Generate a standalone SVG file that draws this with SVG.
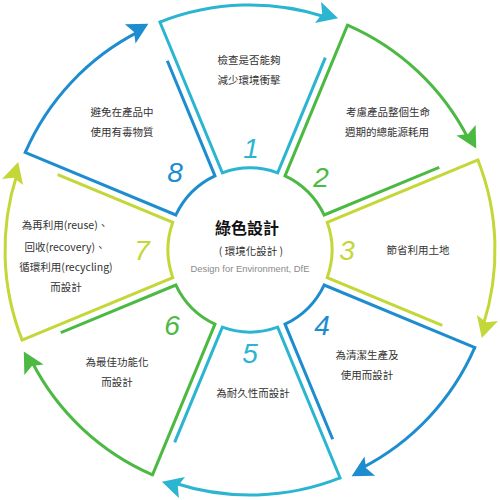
<svg xmlns="http://www.w3.org/2000/svg" xmlns:xlink="http://www.w3.org/1999/xlink" width="500" height="500" viewBox="0 0 500 500">
<style>
.f{fill:none;stroke-width:3;stroke-linecap:square;stroke-linejoin:miter}
.a{fill:none;stroke-width:3;stroke-linecap:butt}
.steal{stroke:#2cb5d1}.sgreen{stroke:#4bb942}.syel{stroke:#c4d738}.sblue{stroke:#1e8dcf}
.hteal{fill:#2cb5d1}.hgreen{fill:#4bb942}.hyel{fill:#c4d738}.hblue{fill:#1e8dcf}
.t{font-family:"Noto Sans CJK TC","Liberation Sans",sans-serif;font-size:10.5px;fill:#333;text-anchor:middle}
.n{font-family:"Liberation Sans","Open Sans",sans-serif;font-style:italic;font-size:28px;text-anchor:middle}
</style>
<defs>
<path id="frame" d="M74.75,-190.93 L27.64,-77.2 A82,82 0 0 0 -27.64,-77.2 L-90.05,-227.86"/>
<path id="arc" d="M-90.05,-227.86 A245,245 0 0 1 75.71,-233.01"/>
<path id="head" d="M88.1,-231.8 L71.1,-248.0 L72.2,-236.2 L65.0,-226.9 Z"/>
</defs>
<rect width="500" height="500" fill="#fff"/>
<g id="connectors" transform="translate(250,250)">
<g><use xlink:href="#arc" class="a steal"/><use xlink:href="#head" class="hteal"/></g>
<g transform="rotate(45)"><use xlink:href="#arc" class="a sgreen"/><use xlink:href="#head" class="hgreen"/></g>
<g transform="rotate(90)"><use xlink:href="#arc" class="a syel"/><use xlink:href="#head" class="hyel"/></g>
<g transform="rotate(135)"><use xlink:href="#arc" class="a sblue"/><use xlink:href="#head" class="hblue"/></g>
<g transform="rotate(180)"><use xlink:href="#arc" class="a steal"/><use xlink:href="#head" class="hteal"/></g>
<g transform="rotate(225)"><use xlink:href="#arc" class="a sgreen"/><use xlink:href="#head" class="hgreen"/></g>
<g transform="rotate(270)"><use xlink:href="#arc" class="a syel"/><use xlink:href="#head" class="hyel"/></g>
<g transform="rotate(315)"><use xlink:href="#arc" class="a sblue"/><use xlink:href="#head" class="hblue"/></g>
</g>
<g id="seg1">
<use xlink:href="#frame" class="f steal" transform="translate(250,250)"/>
<text class="n hteal" x="251" y="158">1</text>
<text class="t" x="249" y="64">檢查是否能夠</text>
<text class="t" x="249" y="84">減少環境衝擊</text>
</g>
<g id="seg2">
<use xlink:href="#frame" class="f sgreen" transform="translate(250,250) rotate(45)"/>
<text class="n hgreen" x="321" y="187">2</text>
<text class="t" x="388" y="116">考慮產品整個生命</text>
<text class="t" x="387" y="136">週期的總能源耗用</text>
</g>
<g id="seg3">
<use xlink:href="#frame" class="f syel" transform="translate(250,250) rotate(90)"/>
<text class="n hyel" x="347" y="260">3</text>
<text class="t" x="418" y="254">節省利用土地</text>
</g>
<g id="seg4">
<use xlink:href="#frame" class="f sblue" transform="translate(250,250) rotate(135)"/>
<text class="n hblue" x="322" y="335">4</text>
<text class="t" x="367" y="359">為清潔生產及</text>
<text class="t" x="367" y="379">使用而設計</text>
</g>
<g id="seg5">
<use xlink:href="#frame" class="f steal" transform="translate(250,250) rotate(180)"/>
<text class="n hteal" x="250" y="363">5</text>
<text class="t" x="253" y="397">為耐久性而設計</text>
</g>
<g id="seg6">
<use xlink:href="#frame" class="f sgreen" transform="translate(250,250) rotate(225)"/>
<text class="n hgreen" x="172" y="335">6</text>
<text class="t" x="117" y="366">為最佳功能化</text>
<text class="t" x="117" y="386">而設計</text>
</g>
<g id="seg7">
<use xlink:href="#frame" class="f syel" transform="translate(250,250) rotate(270)"/>
<text class="n hyel" x="142" y="260">7</text>
<text class="t" x="65" y="229">為再利用(reuse)、</text>
<text class="t" x="65" y="251">回收(recovery)、</text>
<text class="t" x="66" y="271">循環利用(recycling)</text>
<text class="t" x="66" y="291">而設計</text>
</g>
<g id="seg8">
<use xlink:href="#frame" class="f sblue" transform="translate(250,250) rotate(315)"/>
<text class="n hblue" x="175" y="182">8</text>
<text class="t" x="122" y="116">避免在產品中</text>
<text class="t" x="122" y="136">使用有毒物質</text>
</g>
<g id="center">
<text x="247" y="234" style="font-family:'Noto Sans CJK TC',sans-serif;font-size:16px;font-weight:bold;fill:#111;text-anchor:middle">綠色設計</text>
<text class="t" x="251" y="255">( 環境化設計 )</text>
<text x="250" y="271.5" textLength="119" lengthAdjust="spacingAndGlyphs" style="font-family:'Liberation Sans',sans-serif;font-size:9.5px;fill:#8a8a8a;text-anchor:middle">Design for Environment, DfE</text>
</g>
</svg>
